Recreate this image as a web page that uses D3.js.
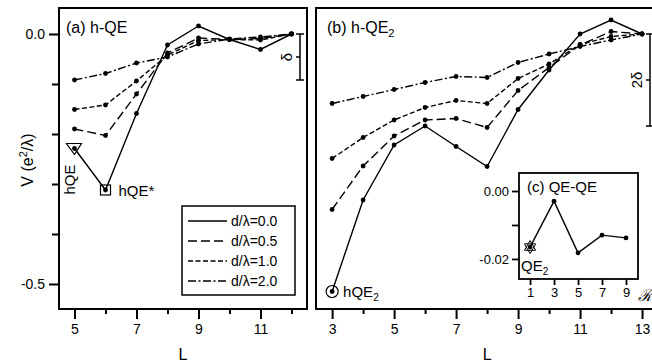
<!DOCTYPE html>
<html>
<head>
	<title>h-QE</title>
	<style>
	body { margin: 0; background: #fff; }
	text { font-family: "Liberation Sans", Arial, sans-serif; fill: #000; }
	.tick text { font-size: 14px; }
	.frame { fill: none; stroke: #000; stroke-width: 2; }
	.series { fill: none; stroke: #000; stroke-width: 1.4; }
	</style>
	<script src="https://d3js.org/d3.v7.min.js"></script>
</head>
<body>
	<script type="text/javascript">
		// 数据
		var distances = ['0.0', '0.5', '1.0', '2.0'];
		var dashes = [null, '9,4', '5,2.5', '8,2.5,2,2.5'];

		var lA = [5, 6, 7, 8, 9, 10, 11, 12];
		var vA0 = [-0.229, -0.312, -0.159, -0.022, 0.016, -0.011, -0.031, 0];
		var vA05 = [-0.190, -0.203, -0.120, -0.038, -0.008, -0.011, -0.009, 0];
		var vA10 = [-0.151, -0.142, -0.094, -0.042, -0.013, -0.011, -0.012, 0];
		var vA20 = [-0.092, -0.079, -0.058, -0.046, -0.020, -0.010, -0.006, 0];

		var lB = [3, 4, 5, 6, 7, 8, 9, 10, 11, 12, 13];
		var vB0 = [-0.515, -0.332, -0.222, -0.184, -0.225, -0.265, -0.151, -0.072, 0.000, 0.028, 0];
		var vB05 = [-0.351, -0.264, -0.204, -0.172, -0.169, -0.187, -0.113, -0.067, -0.022, 0.005, 0];
		var vB10 = [-0.249, -0.207, -0.172, -0.147, -0.133, -0.139, -0.089, -0.060, -0.021, -0.005, 0];
		var vB20 = [-0.139, -0.125, -0.111, -0.097, -0.085, -0.087, -0.057, -0.040, -0.025, -0.012, 0];

		var rC = [1, 3, 5, 7, 9];
		var vC = [-0.0165, -0.0030, -0.0182, -0.0130, -0.0138];

		var delta = 0.092;

		var svg = d3.select('body').append('svg')
			.attr('width', 652)
			.attr('height', 364);

		// 比例尺
		var y = d3.scaleLinear().domain([0.052, -0.55]).range([8, 309]);
		var xA = d3.scaleLinear().domain([4.5, 12.5]).range([59, 307]);
		var xB = d3.scaleLinear().domain([2.48, 13.45]).range([316, 656]);
		var xC = d3.scaleLinear().domain([0.08, 10]).range([519, 638]);
		var yC = d3.scaleLinear().domain([0.0053, -0.0259]).range([173, 279]);

		function drawSeries(g, x, yy, xs, ys, dash) {
			var pts = xs.map(function (v, i) { return [v, ys[i]]; });
			var line = d3.line().x(function (d) { return x(d[0]); }).y(function (d) { return yy(d[1]); });
			g.append('path').attr('class', 'series').attr('d', line(pts))
				.style('stroke-dasharray', dash);
			g.selectAll(null).data(pts).enter().append('circle')
				.attr('cx', function (d) { return x(d[0]); })
				.attr('cy', function (d) { return yy(d[1]); })
				.attr('r', 2.4);
		}

		function xAxis(x, ticksMajor, ticksMinor, yPos) {
			var g = svg.append('g').attr('transform', 'translate(0,' + yPos + ')');
			g.call(d3.axisBottom(x).tickValues(ticksMinor).tickSize(5).tickFormat(''))
				.call(function (s) { s.select('.domain').remove(); });
			var g2 = svg.append('g').attr('transform', 'translate(0,' + yPos + ')');
			g2.call(d3.axisBottom(x).tickValues(ticksMajor).tickSize(10).tickPadding(5).tickFormat(d3.format('d')))
				.call(function (s) { s.select('.domain').remove(); });
			g.selectAll('line').attr('stroke-width', 2);
			g2.selectAll('line').attr('stroke-width', 2);
			return g2;
		}

		// (a) 面板
		var gA = svg.append('g');
		[vA0, vA05, vA10, vA20].forEach(function (v, i) { drawSeries(gA, xA, y, lA, v, dashes[i]); });
		svg.append('rect').attr('class', 'frame')
			.attr('x', 59).attr('y', 8).attr('width', 248).attr('height', 301);

		var yAx = svg.append('g').attr('transform', 'translate(59,0)')
			.call(d3.axisLeft(y).tickValues([0, -0.5]).tickSize(10).tickPadding(4).tickFormat(d3.format('.1f')));
		yAx.select('.domain').remove();
		yAx.selectAll('line').attr('stroke-width', 2);
		yAx.selectAll('text').text(function (d) { return d3.format('.1f')(d).replace('−', '-'); });
		var yMin = svg.append('g').attr('transform', 'translate(59,0)')
			.call(d3.axisLeft(y).tickValues([-0.1, -0.2, -0.3, -0.4]).tickSize(7).tickFormat(''));
		yMin.select('.domain').remove();
		yMin.selectAll('line').attr('stroke-width', 2);

		xAxis(xA, [5, 7, 9, 11], [6, 8, 10, 12], 309);

		svg.append('text').attr('x', 66).attr('y', 33).style('font-size', '16px').text('(a) h-QE');
		svg.append('text').attr('transform', 'translate(33,160) rotate(-90)')
			.attr('text-anchor', 'middle').style('font-size', '16px')
			.html('V (e<tspan dy="-6" font-size="11">2</tspan><tspan dy="6">/λ)</tspan>');
		svg.append('text').attr('x', xA(8.5)).attr('y', 360).attr('text-anchor', 'middle')
			.style('font-size', '16px').text('L');

		// δ 标尺
		function deltaBar(x, top, bot, label) {
			svg.append('line').attr('x1', x).attr('x2', x).attr('y1', top).attr('y2', bot)
				.attr('stroke', '#000').attr('stroke-width', 1.5);
			[top, bot].forEach(function (yy) {
				svg.append('line').attr('x1', x - 4).attr('x2', x + 4).attr('y1', yy).attr('y2', yy)
					.attr('stroke', '#000').attr('stroke-width', 1.5);
			});
			svg.append('line').attr('x1', x - 4).attr('x2', x).attr('y1', (top + bot) / 2).attr('y2', (top + bot) / 2)
				.attr('stroke', '#000').attr('stroke-width', 1.5);
			svg.append('text').attr('transform', 'translate(' + (x - 8) + ',' + ((top + bot) / 2) + ') rotate(-90)')
				.attr('text-anchor', 'middle').style('font-size', '15px').text(label);
		}
		deltaBar(300, y(0), y(-delta), 'δ');

		// hQE 标记
		var pQE = [xA(5), y(vA0[0])];
		svg.append('path').attr('d', 'M' + (pQE[0] - 8) + ',' + (pQE[1] - 5) + 'L' + (pQE[0] + 7) + ',' + (pQE[1] - 5) +
			'L' + pQE[0] + ',' + (pQE[1] + 6) + 'Z').attr('fill', 'none').attr('stroke', '#000').attr('stroke-width', 1.2);
		svg.append('text').attr('transform', 'translate(' + (pQE[0] - 0) + ',' + (pQE[1] + 31) + ') rotate(-90)')
			.attr('text-anchor', 'middle').style('font-size', '15px').text('hQE');
		var pQS = [xA(6), y(vA0[1])];
		svg.append('rect').attr('x', pQS[0] - 5).attr('y', pQS[1] - 5).attr('width', 10).attr('height', 10)
			.attr('fill', 'none').attr('stroke', '#000').attr('stroke-width', 1.2);
		svg.append('text').attr('x', pQS[0] + 13).attr('y', pQS[1] + 6).style('font-size', '15px').text('hQE*');

		// 图例
		var leg = svg.append('g').attr('transform', 'translate(182,206)');
		leg.append('rect').attr('width', 113).attr('height', 89).attr('fill', '#fff')
			.attr('stroke', '#000').attr('stroke-width', 1.5);
		distances.forEach(function (d, i) {
			var yy = 15 + i * 20;
			leg.append('line').attr('x1', 6).attr('x2', 45).attr('y1', yy).attr('y2', yy)
				.attr('stroke', '#000').attr('stroke-width', 1.4).style('stroke-dasharray', dashes[i]);
			leg.append('text').attr('x', 49).attr('y', yy + 5).style('font-size', '14px').text('d/λ=' + d);
		});

		// (b) 面板
		var gB = svg.append('g');
		[vB0, vB05, vB10, vB20].forEach(function (v, i) { drawSeries(gB, xB, y, lB, v, dashes[i]); });
		svg.append('rect').attr('class', 'frame')
			.attr('x', 316).attr('y', 8).attr('width', 340).attr('height', 301);
		xAxis(xB, [3, 5, 7, 9, 11, 13], [4, 6, 8, 10, 12], 309);
		svg.append('text').attr('x', 327).attr('y', 33).style('font-size', '16px')
			.html('(b) h-QE<tspan dy="4" font-size="11">2</tspan>');
		svg.append('text').attr('x', xB(8)).attr('y', 360).attr('text-anchor', 'middle')
			.style('font-size', '16px').text('L');
		deltaBar(650, y(0), y(-2 * delta), '2δ');

		var pB = [xB(3), y(vB0[0])];
		svg.append('circle').attr('cx', pB[0]).attr('cy', pB[1]).attr('r', 6)
			.attr('fill', 'none').attr('stroke', '#000').attr('stroke-width', 1.2);
		svg.append('text').attr('x', pB[0] + 11).attr('y', pB[1] + 5).style('font-size', '15px')
			.html('hQE<tspan dy="4" font-size="10">2</tspan>');

		// (c) 插图
		var gC = svg.append('g');
		svg.append('rect').attr('x', 519).attr('y', 173).attr('width', 119).attr('height', 106)
			.attr('fill', '#fff').attr('stroke', '#000').attr('stroke-width', 1.8);
		drawSeries(gC.raise(), xC, yC, rC, vC, null);
		var cY = svg.append('g').attr('transform', 'translate(519,0)')
			.call(d3.axisLeft(yC).tickValues([0, -0.01, -0.02]).tickSize(7).tickPadding(3)
				.tickFormat(function (d) { return d === -0.01 ? '' : d3.format('.2f')(d).replace('−', '-'); }));
		cY.select('.domain').remove();
		cY.selectAll('line').attr('stroke-width', 1.8);
		cY.selectAll('text').style('font-size', '13px');
		var cX = svg.append('g').attr('transform', 'translate(0,279)')
			.call(d3.axisBottom(xC).tickValues(rC).tickSize(6).tickPadding(3).tickFormat(d3.format('d')));
		cX.select('.domain').remove();
		cX.selectAll('line').attr('stroke-width', 1.8);
		cX.selectAll('text').style('font-size', '13px');
		svg.append('text').attr('x', 645).attr('y', 301).attr('text-anchor', 'middle')
			.style('font-size', '16px').style('font-style', 'italic').style('font-family', 'DejaVu Serif, serif').text('ℛ');
		svg.append('text').attr('x', 527).attr('y', 192).style('font-size', '15px').text('(c) QE-QE');

		// 六角星
		var pC = [xC(1), yC(vC[0])];
		var star = '';
		[0, 1].forEach(function (k) {
			var pts = d3.range(3).map(function (j) {
				var a = (k * 60 + j * 120 - 90) * Math.PI / 180;
				return [pC[0] + 6.5 * Math.cos(a), pC[1] + 6.5 * Math.sin(a)];
			});
			star += 'M' + pts.join('L') + 'Z';
		});
		svg.append('path').attr('d', star).attr('fill', 'none').attr('stroke', '#000').attr('stroke-width', 1);
		svg.append('text').attr('x', 521).attr('y', 271).style('font-size', '15px')
			.html('QE<tspan dy="4" font-size="10">2</tspan>');
	</script>
</body>
</html>
